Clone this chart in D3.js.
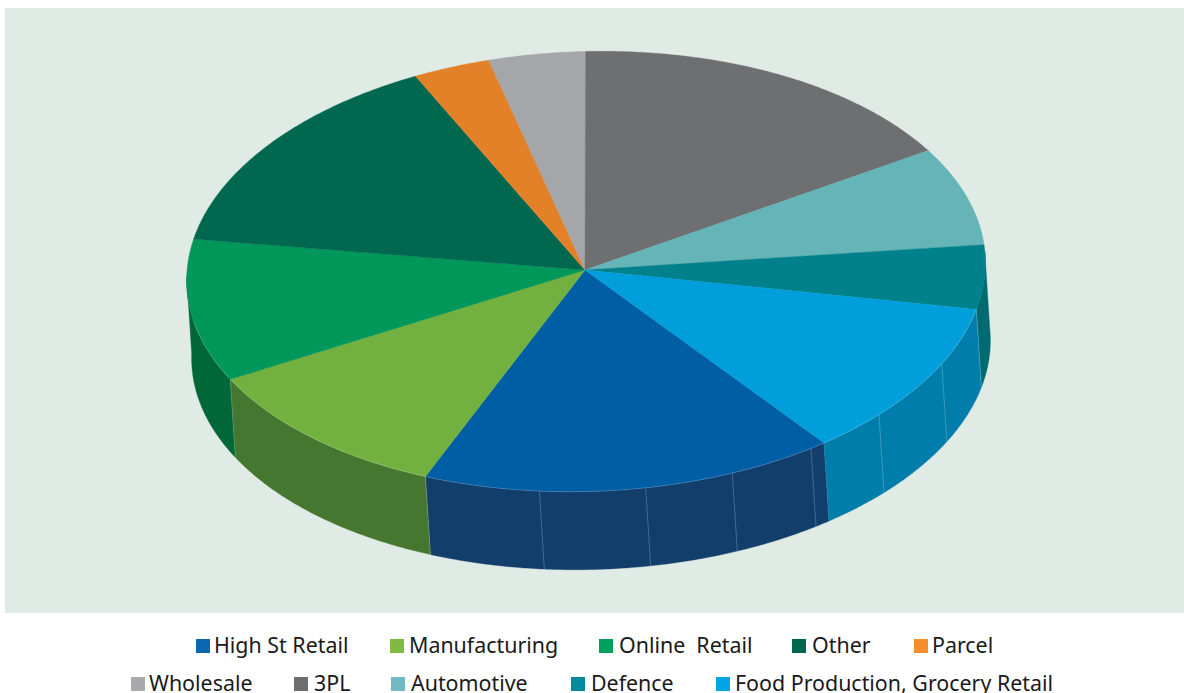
<!DOCTYPE html>
<html>
<head>
<meta charset="utf-8">
<script src="https://cdn.jsdelivr.net/npm/d3@7"></script>
<style>
  html, body { margin: 0; padding: 0; background: #fff; }
  svg { display: block; }
  text { font-family: "Noto Sans", "Open Sans", sans-serif; font-size: 21.4px; fill: #1a1a1a; white-space: pre; }
</style>
</head>
<body>
<svg id="chart" width="1184" height="693"></svg>
<script>
// Sector shares, in slice order clockwise from High St Retail
const categories = ["High St Retail", "Manufacturing", "Online  Retail", "Other", "Parcel",
                    "Wholesale", "3PL", "Automotive", "Defence", "Food Production, Grocery Retail"];
const shares = [16.75, 10.9, 10.5, 15, 3.1, 3.9, 16.4, 7.3, 4.7, 11.45];

const topColours    = ["#005ea5", "#72b13f", "#00985a", "#00684f", "#e38128",
                       "#a5a6a9", "#6e6f71", "#65b4b8", "#00818b", "#009edb"];
const wallColours   = ["#123e6c", "#467731", "#006838", "#004f3c", "#a8601e",
                       "#7b7c7e", "#525354", "#4b878a", "#006a70", "#007dab"];
const legendColours = ["#0a68b0", "#7fbb42", "#00a05e", "#00674f", "#f68e2d",
                       "#a7a9ac", "#6d6e70", "#6fb9c2", "#008c9e", "#00a4e4"];

// Facet joins on the pie's rim, in degrees clockwise from twelve o'clock
const rimJoins = [118, 133.8, 146.7, 159.5, 172.4, 187.7];

const deg = Math.PI / 180;
const apex = [585, 270];
const centre = { x: 586, y: 271.5 };
const radiusX = 399.5, radiusY = 220;
const tilt = -1.8 * deg;
const thickness = { x: 5, y: 78 };
const rimRange = [88 * deg, 272 * deg];

const svg = d3.select("#chart");

svg.append("rect").attr("x", 5).attr("y", 8).attr("width", 1179).attr("height", 605).attr("fill", "#e1ebe6");

// Maps a pie angle onto the tilted ellipse, optionally on the lower face
function project(angle, lower = false) {
  const ex = radiusX * Math.sin(angle);
  const ey = -radiusY * Math.cos(angle);
  return [
    centre.x + ex * Math.cos(tilt) - ey * Math.sin(tilt) + (lower ? thickness.x : 0),
    centre.y + ex * Math.sin(tilt) + ey * Math.cos(tilt) + (lower ? thickness.y : 0)
  ];
}

const startAngle = 144.4 * deg;
const pie = d3.pie().sort(null).startAngle(startAngle).endAngle(startAngle + 2 * Math.PI);
const slices = pie(shares);
const line = d3.line();

function arcAngles(a0, a1) {
  const n = Math.max(2, Math.ceil((a1 - a0) / (0.5 * deg)));
  return d3.range(n + 1).map(i => a0 + (a1 - a0) * i / n);
}

// Rim of the disc, only the part that faces the viewer
const rim = svg.append("g");
slices.forEach((s, i) => {
  const offset = s.startAngle >= 2 * Math.PI ? 2 * Math.PI : 0;
  const a0 = Math.max(s.startAngle - offset, rimRange[0]);
  const a1 = Math.min(s.endAngle - offset, rimRange[1]);
  if (a1 <= a0) return;
  const angles = arcAngles(a0, a1);
  const outline = angles.map(a => project(a)).concat(angles.slice().reverse().map(a => project(a, true)));
  rim.append("path")
    .attr("d", line(outline) + "Z")
    .attr("fill", wallColours[i])
    .attr("stroke", wallColours[i])
    .attr("stroke-width", 0.4);
  // light vertical edge where each slice begins on the rim
  if (s.startAngle - offset >= rimRange[0] && s.startAngle - offset <= rimRange[1]) {
    rim.append("path")
      .attr("d", line([project(a0), project(a0, true)]))
      .attr("stroke", "#fff").attr("stroke-opacity", 0.22).attr("stroke-width", 1).attr("fill", "none");
  }
});

rim.selectAll("path.join")
  .data(rimJoins)
  .join("path")
  .attr("class", "join")
  .attr("d", a => line([project(a * deg), project(a * deg, true)]))
  .attr("stroke", "#fff").attr("stroke-opacity", 0.22).attr("stroke-width", 1).attr("fill", "none");

// Top face of the disc
svg.append("g")
  .selectAll("path")
  .data(slices)
  .join("path")
  .attr("d", s => line([apex].concat(arcAngles(s.startAngle, s.endAngle).map(a => project(a)))) + "Z")
  .attr("fill", (s, i) => topColours[i])
  .attr("stroke", (s, i) => topColours[i])
  .attr("stroke-width", 0.4);

// Thin highlight along the front edge of the top face
svg.append("path")
  .attr("d", line(arcAngles(rimRange[0] + 15 * deg, rimRange[1] - 12 * deg).map(a => project(a))))
  .attr("fill", "none").attr("stroke", "#fff").attr("stroke-opacity", 0.22).attr("stroke-width", 0.8);

// Two-row legend
const legendRows = [[0, 1, 2, 3, 4], [5, 6, 7, 8, 9]];
const legendSwatchX = [[196, 390, 599, 792, 914], [131, 294, 391, 571, 716]];
const legendLabelX = [[214, 409, 619, 812, 932], [149, 314, 411, 591, 735]];
const legendRowY = [646, 684];
const legend = svg.append("g");
legendRows.forEach((row, r) => {
  row.forEach((idx, k) => {
    const y = legendRowY[r];
    legend.append("rect").attr("x", legendSwatchX[r][k]).attr("y", y - 7).attr("width", 14).attr("height", 14).attr("fill", legendColours[idx]);
    legend.append("text").attr("x", legendLabelX[r][k]).attr("y", y + 7).text(categories[idx]);
  });
});
</script>
</body>
</html>
